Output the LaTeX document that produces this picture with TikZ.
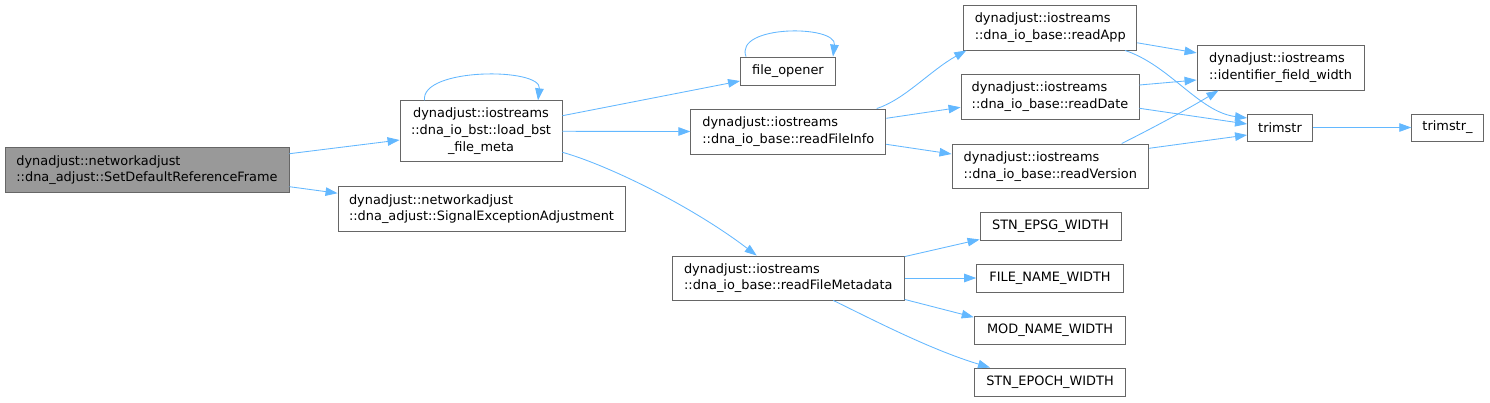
\documentclass[tikz,border=0pt]{standalone}
\usepackage{fontspec}
\setmainfont{DejaVu Sans}
\usetikzlibrary{arrows.meta}
\definecolor{edgec}{HTML}{63B8FF}
\definecolor{boxc}{HTML}{666666}
\definecolor{mainfill}{HTML}{999999}
\tikzset{
  fn/.style={draw=boxc, line width=0.9pt, fill=white, inner sep=0pt, align=left,
    font=\fontsize{12.9}{16.7}\selectfont, text=black},
  cfn/.style={fn, align=center},
  call/.style={draw=edgec, line width=0.85pt, -{Triangle[length=12pt,width=8.5pt]}}
}
\begin{document}
\begin{tikzpicture}[x=1pt,y=-1pt]
\useasboundingbox[fill=white] (0,0) rectangle (1490,402);
% nodes
\node[fn, fill=mainfill, minimum width=284pt, minimum height=45pt] (A) at (147,170.2)
  {dynadjust::networkadjust\\::dna\_adjust::SetDefaultReferenceFrame};
\node[cfn, minimum width=162pt, minimum height=61pt] (B) at (481,131.3)
  {dynadjust::iostreams\\::dna\_io\_bst::load\_bst\\\_file\_meta};
\node[fn, minimum width=287pt, minimum height=45pt] (C) at (481.5,209.2)
  {dynadjust::networkadjust\\::dna\_adjust::SignalExceptionAdjustment};
\node[fn, minimum width=95pt, minimum height=28.5pt] (fo) at (788,71.3) {file\_opener};
\node[fn, minimum width=195pt, minimum height=45pt] (rfi) at (788.3,131.5)
  {dynadjust::iostreams\\::dna\_io\_base::readFileInfo};
\node[fn, minimum width=232pt, minimum height=44pt] (rfm) at (788.3,278)
  {dynadjust::iostreams\\::dna\_io\_base::readFileMetadata};
\node[fn, minimum width=173pt, minimum height=45pt] (rapp) at (1050.3,27.5)
  {dynadjust::iostreams\\::dna\_io\_base::readApp};
\node[fn, minimum width=178pt, minimum height=44.5pt] (rdate) at (1050,96.8)
  {dynadjust::iostreams\\::dna\_io\_base::readDate};
\node[fn, minimum width=196.7pt, minimum height=44.7pt] (rver) at (1050.3,166.3)
  {dynadjust::iostreams\\::dna\_io\_base::readVersion};
\node[fn, minimum width=167pt, minimum height=45pt] (idf) at (1280.5,67.5)
  {dynadjust::iostreams\\::identifier\_field\_width};
\node[fn, minimum width=65pt, minimum height=27pt] (trim) at (1280,127.5) {trimstr};
\node[fn, minimum width=71.5pt, minimum height=27pt] (trimu) at (1447.5,127.5) {trimstr\_};
\node[fn, minimum width=141pt, minimum height=28pt] (epsg) at (1050.5,226) {STN\_EPSG\_WIDTH};
\node[fn, minimum width=146.7pt, minimum height=28pt] (fname) at (1050,278) {FILE\_NAME\_WIDTH};
\node[fn, minimum width=151.7pt, minimum height=27.3pt] (mname) at (1050,330.3) {MOD\_NAME\_WIDTH};
\node[fn, minimum width=151.7pt, minimum height=28pt] (epoch) at (1050,382) {STN\_EPOCH\_WIDTH};
% edges
\draw[call] ([yshift=16.5pt]A.east) -- ([yshift=-8.7pt]B.west);
\draw[call] ([yshift=-16.5pt]A.east) -- ([yshift=16pt]C.west);
\draw[call] ([xshift=-56.5pt]B.north) .. controls +(-4,-33) and +(4,-33) .. ([xshift=57pt]B.north);
\draw[call] ([xshift=-42pt]fo.north) .. controls +(-12,-32) and +(4,-32) .. ([xshift=45pt]fo.north);
\draw[call] ([yshift=15.6pt]B.east) -- ([yshift=-9.7pt]fo.west);
\draw[call] (B.east) -- (rfi.west);
\draw[call] ([yshift=-21pt]B.east) .. controls +(43,12) and +(-67,-51) .. ([xshift=-31.6pt]rfm.north);
\draw[call] ([xshift=88.4pt]rfi.north) .. controls +(28,-9) and +(-36,20) .. ([xshift=-84pt]rapp.south);
\draw[call] ([yshift=13.2pt]rfi.east) -- ([yshift=-10.5pt]rdate.west);
\draw[call] ([yshift=-12.8pt]rfi.east) -- ([yshift=12.3pt]rver.west);
\draw[call] ([yshift=-15.3pt]rapp.east) -- ([yshift=14.6pt]idf.west);
\draw[call] ([xshift=74.7pt]rapp.south) .. controls +(45,15) and +(-48,-6) .. ([yshift=9.5pt]trim.west);
\draw[call] ([yshift=11.8pt]rdate.east) -- ([yshift=-12.5pt]idf.west);
\draw[call] ([yshift=-11.5pt]rdate.east) -- ([yshift=3.5pt]trim.west);
\draw[call] ([xshift=71.4pt]rver.north) .. controls +(28,-14) and +(-33,20) .. ([xshift=-62pt]idf.south);
\draw[call] ([yshift=18pt]rver.east) -- ([yshift=-7.5pt]trim.west);
\draw[call] (trim.east) -- (trimu.west);
\draw[call] ([yshift=-1pt]rfm.north east) -- ([yshift=1pt]epsg.south west);
\draw[call] (rfm.east) -- (fname.west);
\draw[call] ([yshift=1pt]rfm.south east) -- ([yshift=-1pt]mname.north west);
\draw[call] ([xshift=45pt]rfm.south) .. controls +(37,18) and +(-60,-18) .. ([xshift=-60pt]epoch.north);
\end{tikzpicture}
\end{document}
